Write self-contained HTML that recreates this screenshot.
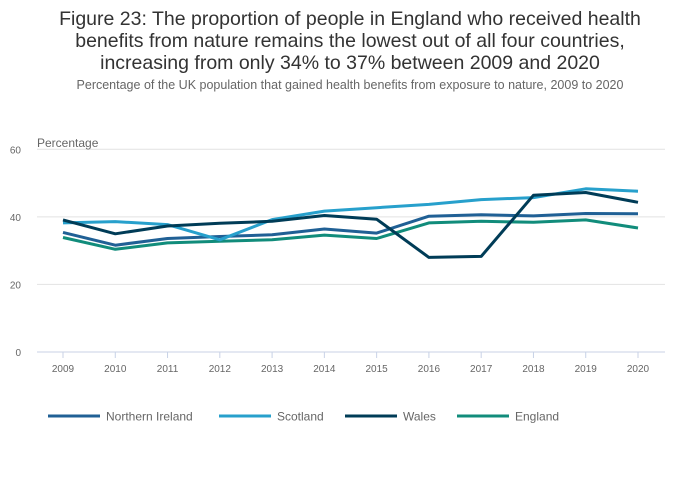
<!DOCTYPE html>
<html><head><meta charset="utf-8"><style>
body{margin:0;background:#fff;font-family:"Liberation Sans",sans-serif;}
#wrap{position:relative;width:700px;height:502px;overflow:hidden}
.t{position:absolute;left:0;width:700px;text-align:center;color:#222}
</style></head><body>
<div id="wrap">
<div class="t" style="top:8px;font-size:19.5px;line-height:22px;color:#333">Figure 23: The proportion of people in England who received health<br>benefits from nature remains the lowest out of all four countries,<br>increasing from only 34% to 37% between 2009 and 2020</div>
<div class="t" style="top:78px;font-size:12.5px;color:#666">Percentage of the UK population that gained health benefits from exposure to nature, 2009 to 2020</div>
<svg id="svg" width="700" height="502" style="position:absolute;left:0;top:0"></svg>
</div>
<script>
const years=[2009,2010,2011,2012,2013,2014,2015,2016,2017,2018,2019,2020];
const yTicks=[0,20,40,60];
const seriesNames=["Northern Ireland","Scotland","Wales","England"];
const niValues=[35.4,31.6,33.6,34.2,34.7,36.4,35.2,40.2,40.6,40.3,41,40.9];
const scotlandValues=[38.2,38.6,37.7,33.2,39.2,41.7,42.7,43.7,45.1,45.7,48.3,47.6];
const walesValues=[39.1,35,37.3,38.1,38.7,40.4,39.3,28,28.3,46.4,47.2,44.3];
const englandValues=[33.9,30.4,32.3,32.8,33.2,34.6,33.6,38.2,38.7,38.4,39.1,36.7];
const colors=["#206095","#27a0cc","#003c57","#118c7b"];
const svg=document.getElementById('svg');const NS="http://www.w3.org/2000/svg";
function mk(t,a,p){const e=document.createElementNS(NS,t);for(const k in a)e.setAttribute(k,a[k]);(p||svg).appendChild(e);return e;}
const x0=63,x1=638,yb=352,yt=149.3;
const xs=i=>x0+(x1-x0)*i/(years.length-1);
const ys=v=>yb-(yb-yt)*v/60;
yTicks.forEach(v=>{
 if(v>0){const g=mk('line',{x1:37,x2:665,y1:ys(v),y2:ys(v),stroke:'#e2e2e2','stroke-width':1});
 }
 const t=mk('text',{x:21,y:ys(v)+4,'text-anchor':'end','font-size':10,fill:'#666'});t.textContent=v;
 
});
const yt2=mk('text',{x:37,y:147,'font-size':12,fill:'#666'});yt2.textContent='Percentage';

const ax=mk('line',{x1:37,x2:665,y1:yb,y2:yb,stroke:'#c8d2e6','stroke-width':1});

years.forEach((y,i)=>{
 const tk=mk('line',{x1:xs(i),x2:xs(i),y1:yb,y2:yb+6,stroke:'#c8d2e6'});
 
 const t=mk('text',{x:xs(i),y:372,'text-anchor':'middle','font-size':10,fill:'#666'});t.textContent=y;
 
});
const all=[niValues,scotlandValues,walesValues,englandValues];
const order=[0,3,1,2];
order.forEach(s=>{
 const d=all[s].map((v,i)=>(i?'L':'M')+xs(i).toFixed(1)+','+ys(v).toFixed(1)).join('');
 const p=mk('path',{d:d,fill:'none',stroke:colors[s],'stroke-width':3,'stroke-linejoin':'round'});
 
 
});
const lx=[48,219,345,457];
seriesNames.forEach((n,s)=>{
 const l=mk('line',{x1:lx[s],x2:lx[s]+52,y1:416,y2:416,stroke:colors[s],'stroke-width':3});
 
 const t=mk('text',{x:lx[s]+58,y:420.5,'font-size':12,fill:'#666'});t.textContent=n;
 
});
</script>
</body></html>
